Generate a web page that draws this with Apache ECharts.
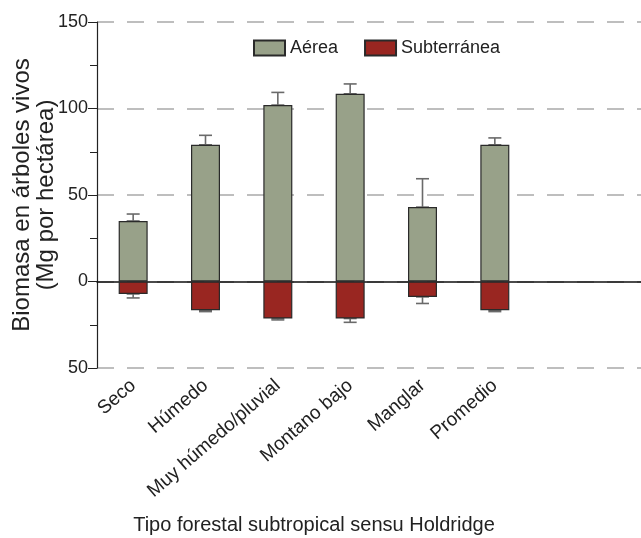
<!DOCTYPE html>
<html>
<head>
<meta charset="utf-8">
<script src="https://cdn.jsdelivr.net/npm/echarts@6/dist/echarts.min.js"></script>
<style>
  html, body { margin: 0; padding: 0; background: #fff; }
  #chart { width: 641px; height: 538px; }
</style>
</head>
<body>
<div id="chart"></div>
<script>
// datos
var categorias = ['Seco', 'Húmedo', 'Muy húmedo/pluvial', 'Montano bajo', 'Manglar', 'Promedio'];
var aerea = [35, 79, 102, 108.5, 43, 79];
var aereaError = [39, 84.5, 109.3, 114.2, 59.4, 83];
var subterranea = [-7.2, -16.6, -21.4, -21.4, -8.9, -16.6];
var subterraneaError = [-9.5, -17.4, -22.2, -23.6, -12.7, -17.4];
var yTicks = [-50, 0, 50, 100, 150];

var fuente = "'Liberation Sans', Arial, sans-serif";

var myChart = echarts.init(document.getElementById('chart'));

// barras de error: linea vertical con tope
function renderError(params, api) {
  var base = api.coord([api.value(0), api.value(1)]);
  var tope = api.coord([api.value(0), api.value(2)]);
  var w = 6.5;
  var estilo = { stroke: '#6a6a6a', lineWidth: 1.6 };
  return {
    type: 'group',
    children: [
      { type: 'line', shape: { x1: base[0], y1: base[1], x2: tope[0], y2: tope[1] }, style: estilo },
      { type: 'line', shape: { x1: tope[0] - w, y1: tope[1], x2: tope[0] + w, y2: tope[1] }, style: estilo },
      { type: 'line', shape: { x1: base[0] - w, y1: base[1], x2: base[0] + w, y2: base[1] }, style: estilo }
    ]
  };
}

var errAerea = aerea.map(function (v, i) { return [i, v, aereaError[i]]; });
var errSub = subterranea.map(function (v, i) { return [i, v, subterraneaError[i]]; });

myChart.setOption({
  animation: false,
  legend: {
    left: 253,
    top: 39,
    padding: 0,
    itemWidth: 31,
    itemHeight: 15,
    itemGap: 26,
    icon: 'rect',
    textStyle: { fontFamily: fuente, fontSize: 18, color: '#222' },
    data: ['Aérea', 'Subterránea']
  },
  grid: [
    // grilla de las barras
    { left: 97, top: 22, bottom: 170, width: 434, outerBoundsMode: 'none', containLabel: false },
    // grilla ancha para lineas de division
    { left: 97, top: 22, bottom: 170, right: 0, outerBoundsMode: 'none', containLabel: false }
  ],
  xAxis: [
    {
      type: 'category',
      gridIndex: 0,
      data: categorias,
      position: 'bottom',
      axisLine: { show: false, onZero: false },
      axisTick: { show: false },
      axisLabel: {
        rotate: 41,
        margin: 15,
        interval: 0,
        fontFamily: fuente,
        fontSize: 19,
        color: '#222'
      },
      name: 'Tipo forestal subtropical sensu Holdridge',
      nameLocation: 'middle',
      nameGap: 147,
      nameMoveOverlap: false,
      nameTextStyle: { fontFamily: fuente, fontSize: 20, color: '#222' }
    },
    {
      type: 'value',
      gridIndex: 1,
      min: 0,
      max: 1,
      axisLine: { show: true, onZero: true, lineStyle: { color: '#111', width: 1.5 } },
      axisTick: { show: false },
      axisLabel: { show: false },
      splitLine: { show: false }
    }
  ],
  yAxis: [
    {
      type: 'value',
      gridIndex: 0,
      min: -50,
      max: 150,
      interval: 50,
      axisLine: { show: true, lineStyle: { color: '#222', width: 1.2 } },
      axisTick: { show: true, inside: false, length: 9, lineStyle: { color: '#222' } },
      minorTick: { show: true, splitNumber: 2, length: 7, lineStyle: { color: '#222' } },
      axisLabel: {
        margin: 9,
        fontFamily: fuente,
        fontSize: 18,
        color: '#222',
        formatter: function (v) { return String(Math.abs(v)); }
      },
      splitLine: { show: false },
      name: 'Biomasa en árboles vivos\n(Mg por hectárea)',
      nameLocation: 'middle',
      nameGap: 39,
      nameRotate: 90,
      nameMoveOverlap: false,
      nameTextStyle: { fontFamily: fuente, fontSize: 24, color: '#222', lineHeight: 24 }
    },
    {
      type: 'value',
      gridIndex: 1,
      min: -50,
      max: 150,
      interval: 50,
      axisLine: { show: false },
      axisTick: { show: false },
      axisLabel: { show: false },
      splitLine: {
        show: true,
        lineStyle: { color: '#a9a9a9', width: 1.5, type: [17, 13] }
      }
    }
  ],
  series: [
    {
      name: 'Aérea',
      type: 'bar',
      xAxisIndex: 0,
      yAxisIndex: 0,
      stack: 'total',
      barWidth: 29,
      data: aerea,
      itemStyle: { color: '#98a189', borderColor: '#2a2a2a', borderWidth: 1.2 },
      z: 3
    },
    {
      name: 'Subterránea',
      type: 'bar',
      xAxisIndex: 0,
      yAxisIndex: 0,
      stack: 'total',
      barWidth: 29,
      data: subterranea,
      itemStyle: { color: '#992621', borderColor: '#2a2a2a', borderWidth: 1.2 },
      z: 3
    },
    {
      type: 'custom',
      xAxisIndex: 0,
      yAxisIndex: 0,
      renderItem: renderError,
      data: errAerea,
      z: 2
    },
    {
      type: 'custom',
      xAxisIndex: 0,
      yAxisIndex: 0,
      renderItem: renderError,
      data: errSub,
      z: 2
    }
  ]
});
</script>
</body>
</html>
